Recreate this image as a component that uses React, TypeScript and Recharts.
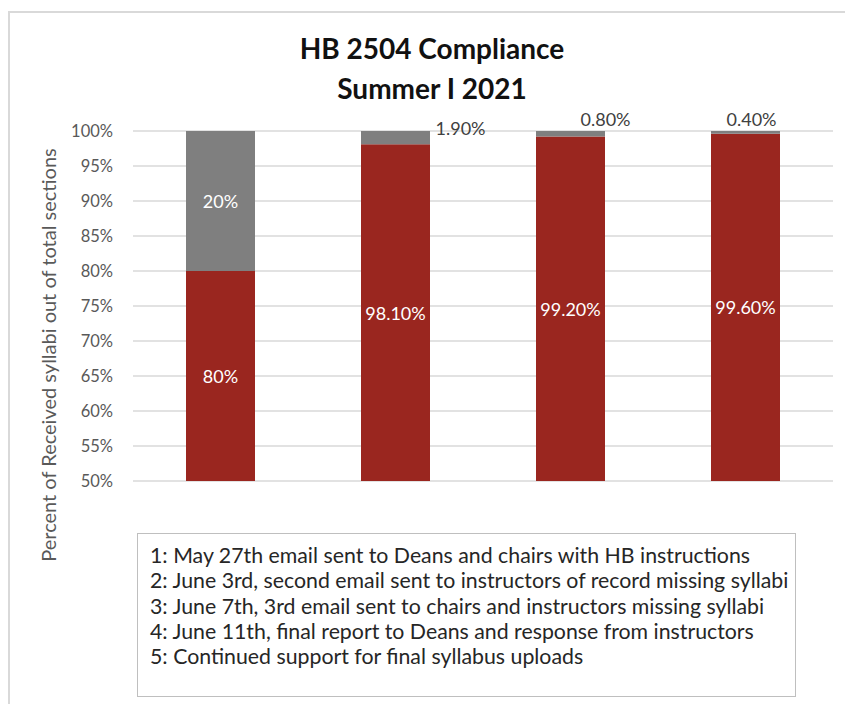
import React from "react";
import { BarChart, Bar, XAxis, YAxis, CartesianGrid, LabelList } from "recharts";

const steps = ["1", "2", "3", "4"];
const received = [80, 98.1, 99.2, 99.6];
const missing = [20, 1.9, 0.8, 0.4];
const yTicks = [50, 55, 60, 65, 70, 75, 80, 85, 90, 95, 100];
const titleLines = ["HB 2504 Compliance", "Summer I 2021"];
const notes = [
	"1: May 27th email sent to Deans and chairs with HB instructions",
	"2: June 3rd, second email sent to instructors of record missing syllabi",
	"3: June 7th, 3rd email sent to chairs and instructors missing syllabi",
	"4: June 11th, final report to Deans and response from instructors",
	"5: Continued support for final syllabus uploads",
];

const data = steps.map((step, i) => ({
	step,
	received: received[i],
	missing: missing[i],
}));

const RED = "#9a261f";
const GRAY = "#7f7f7f";
const FONT = "Lato, sans-serif";

const W = 837;
const H = 696;
const MARGIN = { top: 123, right: 12, bottom: 223, left: 0 };
const PLOT_BOTTOM = H - MARGIN.bottom;

const fmt = (v: number) => (Number.isInteger(v) ? `${v}%` : `${v.toFixed(2)}%`);

// the bars start below 50%, so the label sits in the middle of the visible part
function ReceivedLabel(props: any) {
	const { x, y, width, height, value } = props;
	const bottom = Math.min(y + height, PLOT_BOTTOM);
	return (
		<text
			x={x + width / 2}
			y={(y + bottom) / 2}
			textAnchor="middle"
			dominantBaseline="central"
			fill="#fff"
			fontSize={18}
			fontFamily={FONT}
		>
			{fmt(value)}
		</text>
	);
}

// small slices get their labels pushed outside the bar, like in the sheet
const outsideNudge = [null, { dx: 65, dy: -3 }, { dx: 35, dy: -12 }, { dx: 6, dy: -12 }];

function MissingLabel(props: any) {
	const { x, y, width, height, value, index } = props;
	const nudge = outsideNudge[index];
	if (!nudge) {
		return (
			<text
				x={x + width / 2}
				y={y + height / 2}
				textAnchor="middle"
				dominantBaseline="central"
				fill="#fff"
				fontSize={18}
				fontFamily={FONT}
			>
				{fmt(value)}
			</text>
		);
	}
	return (
		<text
			x={x + width / 2 + nudge.dx}
			y={y + nudge.dy}
			textAnchor="middle"
			dominantBaseline="central"
			fill="#404040"
			fontSize={18}
			fontFamily={FONT}
		>
			{fmt(value)}
		</text>
	);
}

function YLabel(props: any) {
	const { viewBox } = props;
	const cx = 40;
	const cy = viewBox.y + viewBox.height / 2 + 49;
	return (
		<text
			x={cx}
			y={cy}
			transform={`rotate(-90, ${cx}, ${cy})`}
			textAnchor="middle"
			dominantBaseline="central"
			fill="#595959"
			fontSize={20}
			fontFamily={FONT}
		>
			Percent of Received syllabi out of total sections
		</text>
	);
}

const rule = { position: "absolute" as const, background: "#d9d9d9" };

export default function App() {
	return (
		<div
			style={{
				position: "fixed",
				left: 0,
				top: 0,
				width: 845,
				height: 704,
				overflow: "hidden",
				background: "#fff",
				fontFamily: FONT,
			}}
		>
			{/* frame edges of the sheet's chart area */}
			<div style={{ ...rule, left: 8, top: 11, width: 837, height: 2 }} />
			<div style={{ ...rule, left: 8, top: 11, width: 2, height: 693 }} />
			<div style={{ position: "absolute", left: 8, top: 8 }}>
				<div
					style={{
						position: "absolute",
						left: 0,
						top: 20,
						width: 848,
						textAlign: "center",
						fontWeight: 700,
						fontSize: 28,
						lineHeight: "40px",
						color: "#111",
					}}
				>
					{titleLines.map(line => (
						<div key={line}>{line}</div>
					))}
				</div>
				<div style={{ position: "absolute", left: 0, top: 0 }}>
					<BarChart width={W} height={H} data={data} margin={MARGIN} barSize={69}>
						<CartesianGrid
							vertical={false}
							stroke="#d9d9d9"
							strokeWidth={1.5}
						/>
						<XAxis dataKey="step" hide />
						<YAxis
							domain={[50, 100]}
							ticks={yTicks}
							allowDataOverflow
							width={125}
							axisLine={false}
							tickLine={false}
							tickSize={0}
							tickMargin={20}
							tickFormatter={(v: number) => `${v}%`}
							tick={{ fontSize: 16.5, fill: "#595959", fontFamily: FONT }}
							label={<YLabel />}
						/>
						<Bar dataKey="received" stackId="a" fill={RED} isAnimationActive={false}>
							<LabelList dataKey="received" content={<ReceivedLabel />} />
						</Bar>
						<Bar dataKey="missing" stackId="a" fill={GRAY} isAnimationActive={false}>
							<LabelList dataKey="missing" content={<MissingLabel />} />
						</Bar>
					</BarChart>
				</div>
				<div
					style={{
						position: "absolute",
						left: 129,
						top: 525,
						width: 659,
						height: 164,
						boxSizing: "border-box",
						border: "1.5px solid #bfbfbf",
						padding: "9px 0 0 12px",
						fontSize: 21.3,
						lineHeight: "25.3px",
						color: "#262626",
						background: "#fff",
						whiteSpace: "nowrap",
					}}
				>
					{notes.map(n => (
						<div key={n}>{n}</div>
					))}
				</div>
			</div>
		</div>
	);
}
